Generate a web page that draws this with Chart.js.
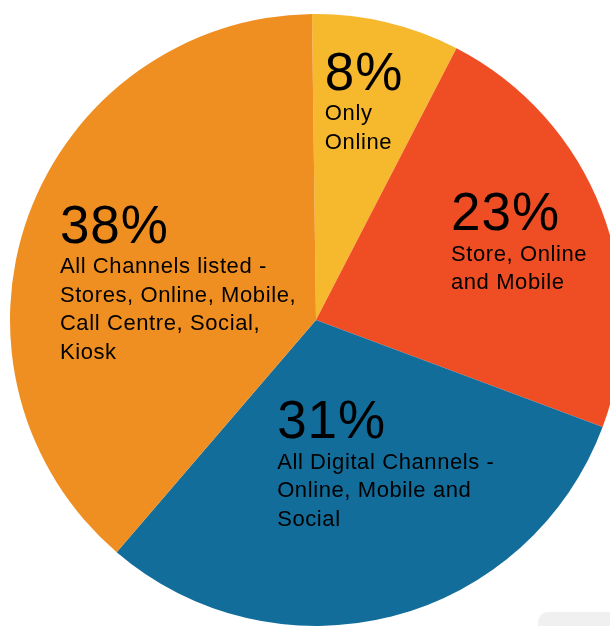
<!DOCTYPE html>
<html>
<head>
<meta charset="utf-8">
<script src="https://cdn.jsdelivr.net/npm/chart.js@4.4.1/dist/chart.umd.min.js"></script>
<style>
  html, body { margin: 0; padding: 0; overflow: hidden; background: #ffffff; width: 610px; height: 626px; }
  #wrap { position: relative; width: 610px; height: 626px; overflow: hidden; }
  #c { position: absolute; left: 0; top: 0; }
  #tab { position: absolute; left: 538px; top: 612px; width: 90px; height: 40px; background: #f0f0f0; border-radius: 10px; }
</style>
</head>
<body>
<div id="wrap">
  <canvas id="c" width="632" height="640"></canvas>
  <div id="tab"></div>
</div>
<script>
// data
const categories = [
  'Only Online',
  'Store, Online and Mobile',
  'All Digital Channels - Online, Mobile and Social',
  'All Channels listed - Stores, Online, Mobile, Call Centre, Social, Kiosk'
];
const shares = [7.8, 23.1, 30.6, 38.5];
const percentLabels = ['8%', '23%', '31%', '38%'];
const labelLines = [
  ['Only', 'Online'],
  ['Store, Online', 'and Mobile'],
  ['All Digital Channels -', 'Online, Mobile and', 'Social'],
  ['All Channels listed -', 'Stores, Online, Mobile,', 'Call Centre, Social,', 'Kiosk']
];
const sliceColors = ['#F6B82D', '#EF4E24', '#136D9B', '#F08F21'];

// where each text block sits, as a fraction of the radius from the centre
const labelAnchors = [
  [0.029, -0.752],
  [0.441, -0.294],
  [-0.127, 0.386],
  [-0.837, -0.252]
];

const FONT = '"Liberation Sans", Arial, Helvetica, sans-serif';

const sliceText = {
  id: 'sliceText',
  afterDatasetsDraw(chart) {
    const arc = chart.getDatasetMeta(0).data[0];
    if (!arc) return;
    const cx = arc.x, cy = arc.y, r = arc.outerRadius;
    const ctx = chart.ctx;
    ctx.save();
    ctx.fillStyle = '#000000';
    ctx.textAlign = 'left';
    ctx.textBaseline = 'alphabetic';
    percentLabels.forEach((p, i) => {
      const x = cx + labelAnchors[i][0] * r;
      const y = cy + labelAnchors[i][1] * r;
      ctx.font = '53px ' + FONT;
      ctx.letterSpacing = '1px';
      ctx.fillText(p, x, y);
      ctx.font = '22px ' + FONT;
      ctx.letterSpacing = '0.6px';
      labelLines[i].forEach((line, j) => {
        ctx.fillText(line, x, y + 30.5 + j * 28.5);
      });
    });
    ctx.restore();
  }
};

new Chart(document.getElementById('c'), {
  type: 'pie',
  data: {
    labels: categories,
    datasets: [{
      data: shares,
      backgroundColor: sliceColors,
      borderWidth: 0,
      hoverBorderWidth: 0,
      hoverOffset: 0
    }]
  },
  options: {
    responsive: false,
    animation: false,
    devicePixelRatio: 1,
    rotation: -0.75,
    layout: { padding: { left: 10, right: 10, top: 8, bottom: 8 } },
    plugins: {
      legend: { display: false },
      tooltip: { enabled: false }
    }
  },
  plugins: [sliceText]
});
</script>
</body>
</html>
